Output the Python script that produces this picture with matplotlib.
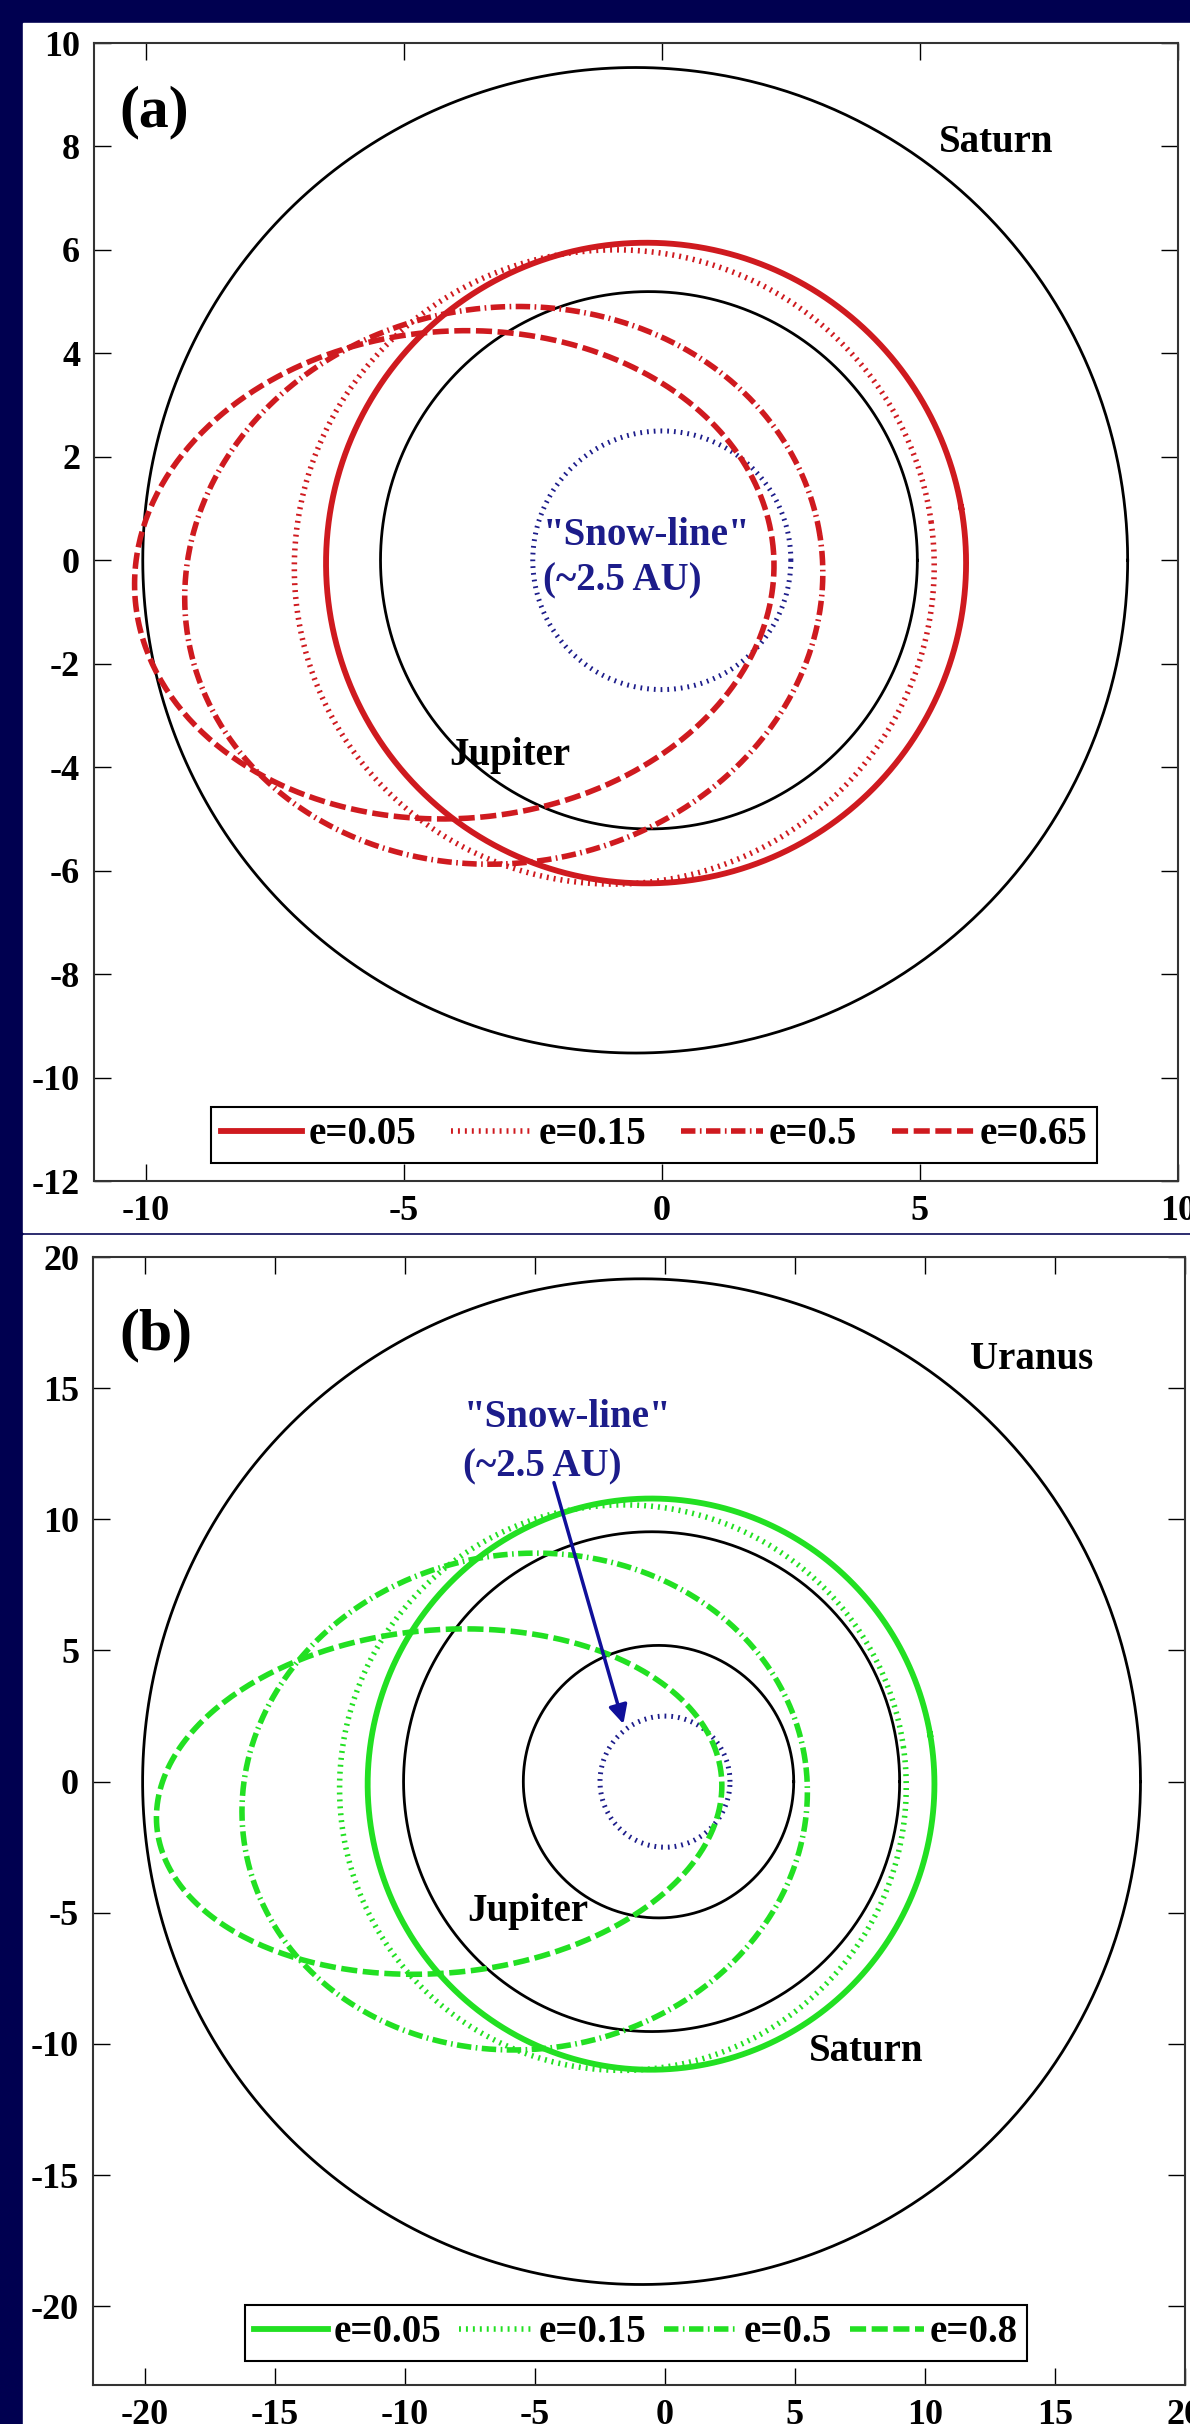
import numpy as np
import matplotlib
matplotlib.use("Agg")
import matplotlib.pyplot as plt
from matplotlib.patches import Rectangle

# orbits (semi-major axis in AU, eccentricity, perihelion angle in deg)
labels_a = ["e=0.05", "e=0.15", "e=0.5", "e=0.65"]
ecc_a = [0.05, 0.15, 0.5, 0.65]
semi_a = 6.2
omega_a = [10, 8, 9, 4]

labels_b = ["e=0.05", "e=0.15", "e=0.5", "e=0.8"]
ecc_b = [0.05, 0.15, 0.5, 0.8]
semi_b = 10.9
omega_b = [10, 8, 8, 5]

planet_names = ["Jupiter", "Saturn", "Uranus"]
planet_a = [5.2, 9.54, 19.19]
planet_e = [0.048, 0.054, 0.047]
snow_line = 2.5

plt.rcParams["font.family"] = ["Liberation Serif", "DejaVu Serif"]
plt.rcParams["font.weight"] = "bold"
plt.rcParams["axes.unicode_minus"] = False

navy = "#000050"
snow_col = "#1c1c8a"
red = "#cf1a1f"
green = "#22e022"

styles = [
    dict(ls="-", lw=4.2),
    dict(ls=(0, (0.35, 0.9)), lw=4.0),
    dict(ls=(0, (2.6, 0.8, 0.3, 0.8)), lw=4.0),
    dict(ls=(0, (2.9, 1.0)), lw=4.0),
]


def orbit(a, e, w_deg):
    th = np.linspace(0, 2 * np.pi, 721)
    r = a * (1 - e ** 2) / (1 + e * np.cos(th))
    w = np.radians(w_deg)
    return r * np.cos(th + w), r * np.sin(th + w)


fig = plt.figure(figsize=(11.9, 24.24), dpi=100, facecolor=navy)
W, H = 1190, 2424
fig.add_artist(Rectangle((23 / W, 1 - 1232 / H), 1 - 23 / W, (1232 - 23) / H,
                         transform=fig.transFigure, color="white", zorder=-10))
fig.add_artist(Rectangle((23 / W, 0), 1 - 23 / W, 1 - 1235 / H,
                         transform=fig.transFigure, color="white", zorder=-10))

ax1 = fig.add_axes([94 / W, 1 - 1181 / H, (1178 - 94) / W, (1181 - 43) / H])
ax2 = fig.add_axes([93 / W, 1 - 2385 / H, (1185 - 93) / W, (2385 - 1257) / H])

# ---- panel (a)
for name, a, e in zip(planet_names[:2], planet_a[:2], planet_e[:2]):
    x, y = orbit(a, e, 0)
    ax1.plot(x, y, color="black", lw=2)
x, y = orbit(snow_line, 0, 0)
ax1.plot(x, y, color=snow_col, ls=(0, (0.35, 1.0)), lw=3.6)
lines_a = []
for e, w, st in zip(ecc_a, omega_a, styles):
    x, y = orbit(semi_a, e, w)
    ln, = ax1.plot(x, y, color=red, **st)
    lines_a.append(ln)

ax1.set_xlim(-11, 10)
ax1.set_ylim(-12, 10)
ax1.set_xticks([-10, -5, 0, 5, 10])
ax1.set_yticks(np.arange(-12, 11, 2))
ax1.text(-10.5, 8.65, "(a)", fontsize=43, va="center", ha="left")
ax1.text(6.47, 8.07, "Saturn", fontsize=28, va="center", ha="center")
ax1.text(-2.95, -3.77, "Jupiter", fontsize=28, va="center", ha="center")
ax1.text(-2.3, 0.48, '"Snow-line"', fontsize=28, va="center", ha="left", color=snow_col)
ax1.text(-2.3, -0.39, "(~2.5 AU)", fontsize=28, va="center", ha="left", color=snow_col)
leg1 = ax1.legend(lines_a, labels_a, loc="center", bbox_to_anchor=(654 / W, 1 - 1135 / H),
                  bbox_transform=fig.transFigure, ncol=4, fontsize=28, handlelength=2.1,
                  handletextpad=0.15, columnspacing=0.9, borderpad=0.25,
                  fancybox=False, edgecolor="black", framealpha=1)
leg1.get_frame().set_linewidth(1.5)

# ---- panel (b)
for name, a, e in zip(planet_names, planet_a, planet_e):
    x, y = orbit(a, e, 0)
    ax2.plot(x, y, color="black", lw=2)
x, y = orbit(snow_line, 0, 0)
ax2.plot(x, y, color=snow_col, ls=(0, (0.35, 1.0)), lw=3.6)
lines_b = []
for e, w, st in zip(ecc_b, omega_b, styles):
    x, y = orbit(semi_b, e, w)
    ln, = ax2.plot(x, y, color=green, **st)
    lines_b.append(ln)

ax2.set_xlim(-22, 20)
ax2.set_ylim(-23, 20)
ax2.set_xticks(np.arange(-20, 21, 5))
ax2.set_yticks(np.arange(-20, 21, 5))
ax2.text(-21.0, 17.0, "(b)", fontsize=43, va="center", ha="left")
ax2.text(14.1, 16.1, "Uranus", fontsize=28, va="center", ha="center")
ax2.text(7.73, -10.3, "Saturn", fontsize=28, va="center", ha="center")
ax2.text(-5.27, -4.96, "Jupiter", fontsize=28, va="center", ha="center")
ax2.text(-7.75, 13.9, '"Snow-line"', fontsize=28, va="center", ha="left", color=snow_col)
ax2.text(-7.75, 12.0, "(~2.5 AU)", fontsize=28, va="center", ha="left", color=snow_col)
ax2.annotate("", xy=(-1.6, 2.2), xytext=(-4.27, 11.4),
             arrowprops=dict(arrowstyle="-|>", color="#10109a", lw=2.5, mutation_scale=28,
                             shrinkA=0, shrinkB=0))
leg2 = ax2.legend(lines_b, labels_b, loc="center", bbox_to_anchor=(636 / W, 1 - 2333 / H),
                  bbox_transform=fig.transFigure, ncol=4, fontsize=28, handlelength=1.9,
                  handletextpad=0.15, columnspacing=0.45, borderpad=0.25,
                  fancybox=False, edgecolor="black", framealpha=1)
leg2.get_frame().set_linewidth(1.5)

for ax in (ax1, ax2):
    ax.tick_params(direction="in", length=12, width=1, top=True, right=True,
                   labelsize=26, pad=10)
    for sp in ax.spines.values():
        sp.set_linewidth(1.5)
        sp.set_color("#333333")

fig.savefig("out.png", dpi=100, facecolor=fig.get_facecolor())
